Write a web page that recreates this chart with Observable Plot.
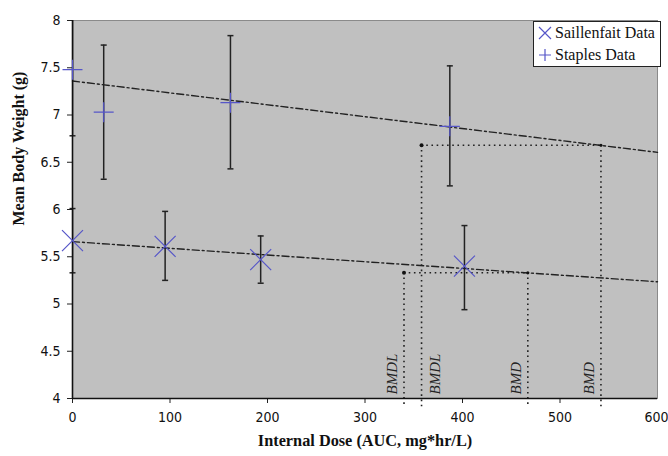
<!DOCTYPE html>
<html>
<head>
<meta charset="utf-8">
<script src="https://cdn.jsdelivr.net/npm/d3@7"></script>
<script src="https://cdn.jsdelivr.net/npm/@observablehq/plot@0.6"></script>
<style>
  html, body { margin: 0; padding: 0; background: #fff; }
  #wrap { position: relative; width: 668px; height: 456px; }
  #legend {
    position: absolute; left: 533px; top: 21px; width: 126px; height: 44px;
    background: #fff; border: 1px solid #222;
    font-family: "Liberation Serif", "Times New Roman", serif; font-size: 16px; color: #111;
  }
  #legend .row { position: absolute; left: 0; height: 22px; display: flex; align-items: center; white-space: nowrap; }
  #legend svg { margin-left: 3px; margin-right: 2px; }
</style>
</head>
<body>
<div id="wrap"></div>
<script>
// ---- data ----
const saillenfaitDose = [0, 95, 193, 402];
const saillenfaitMean = [5.67, 5.61, 5.47, 5.40];
const saillenfaitLow  = [5.33, 5.25, 5.22, 4.94];
const saillenfaitHigh = [6.01, 5.98, 5.72, 5.83];

const staplesDose = [0, 32, 162, 387];
const staplesMean = [7.48, 7.03, 7.13, 6.88];
const staplesLow  = [6.78, 6.32, 6.43, 6.25];
const staplesHigh = [8.18, 7.74, 7.84, 7.52];

const trendDose = [0, 600];
const saillenfaitTrend = [5.66, 5.235];
const staplesTrend = [7.36, 6.605];

const bmdLevel = [5.33, 6.68];
const bmdlDose = [340, 358];
const bmdDose  = [467, 542];
const bmdLabels = ["BMDL", "BMDL", "BMD", "BMD"];
const bmdLabelDose = [340, 358, 467, 542];
const bmdLabelSide = ["left", "right", "left", "left"];

const xTicks = [0, 100, 200, 300, 400, 500, 600];
const yTicks = [4, 4.5, 5, 5.5, 6, 6.5, 7, 7.5, 8];
const xTitle = "Internal Dose (AUC, mg*hr/L)";
const yTitle = "Mean Body Weight (g)";
const seriesNames = ["Saillenfait Data", "Staples Data"];

// ---- derived tables ----
const sail = saillenfaitDose.map((d, i) => ({dose: d, mean: saillenfaitMean[i], lo: saillenfaitLow[i], hi: saillenfaitHigh[i]}));
const stap = staplesDose.map((d, i) => ({dose: d, mean: staplesMean[i], lo: staplesLow[i], hi: staplesHigh[i]}));
const allBars = sail.concat(stap);
const caps = allBars.flatMap(d => [{dose: d.dose, y: d.lo}, {dose: d.dose, y: d.hi}]).filter(d => d.y <= 8);
const trends = trendDose.map((d, i) => ({dose: d, y: saillenfaitTrend[i], s: "a"}))
  .concat(trendDose.map((d, i) => ({dose: d, y: staplesTrend[i], s: "b"})));
const bmd = bmdLevel.map((l, i) => ({level: l, lo: bmdlDose[i], hi: bmdDose[i]}));
const verticals = bmd.flatMap(d => [{dose: d.lo, level: d.level}, {dose: d.hi, level: d.level}]);
const labels = bmdLabels.map((t, i) => ({t, dose: bmdLabelDose[i], side: bmdLabelSide[i]}));

const markerColor = "#5656c8";
const serif = "'Liberation Serif', 'Times New Roman', serif";
const sans = "'DejaVu Sans Condensed', 'DejaVu Sans', sans-serif";
const capSym = {draw(ctx, size) { const r = Math.sqrt(size / Math.PI); ctx.moveTo(-r, 0); ctx.lineTo(r, 0); }};
const timesSym = {draw(ctx, size) { const r = Math.sqrt(size / Math.PI); ctx.moveTo(-r, -r); ctx.lineTo(r, r); ctx.moveTo(-r, r); ctx.lineTo(r, -r); }};
const plusSym = {draw(ctx, size) { const r = Math.sqrt(size / Math.PI); ctx.moveTo(-r, 0); ctx.lineTo(r, 0); ctx.moveTo(0, -r); ctx.lineTo(0, r); }};

const labelMark = side => Plot.text(labels.filter(d => d.side === side), {
  x: "dose", y: 4, text: "t", rotate: -90, textAnchor: "start", dx: side === "left" ? -12 : 14, dy: -4,
  fontFamily: serif, fontStyle: "italic", fontSize: 15, fill: "#222"});

const xAxisOpts = {tickSize: 5, tickPadding: 9, tickFormat: d => String(d), label: null, fontFamily: sans, fontSize: 14, stroke: "#222"};
const lastX = xTicks[xTicks.length - 1];

const chart = Plot.plot({
  width: 668, height: 456,
  marginLeft: 72, marginRight: 11, marginTop: 20, marginBottom: 58,
  style: {background: "#fff", color: "#111"},
  x: {domain: [0, 600]},
  y: {domain: [4, 8]},
  marks: [
    Plot.frame({fill: "#c0c0c0", stroke: "#8a8a8a"}),
    // trend lines
    Plot.line(trends, {x: "dose", y: "y", z: "s", stroke: "#222", strokeWidth: 1.4, strokeDasharray: "7,3,2,3"}),
    // BMD dotted guides
    Plot.ruleY(bmd, {y: "level", x1: "lo", x2: "hi", stroke: "#222", strokeWidth: 1.6, strokeDasharray: "1.6,3.6"}),
    Plot.ruleX(verticals, {x: "dose", y1: "level", y2: 3.91, stroke: "#222", strokeWidth: 1.6, strokeDasharray: "1.6,3.6", clip: false}),
    Plot.dot(bmd, {x: "lo", y: "level", r: 2, fill: "#111"}),
    Plot.dot(bmd, {x: "hi", y: "level", r: 1.6, fill: "#111"}),
    labelMark("left"),
    labelMark("right"),
    // error bars
    Plot.ruleX(allBars, {x: "dose", y1: "lo", y2: "hi", stroke: "#222", strokeWidth: 1.5, clip: true}),
    Plot.dot(caps, {x: "dose", y: "y", symbol: capSym, r: 3, stroke: "#222", strokeWidth: 1.5, clip: false}),
    // axes
    Plot.axisX(xTicks.filter(t => t !== lastX), xAxisOpts),
    Plot.axisX([lastX], {...xAxisOpts, textAnchor: "end", dx: 11}),
    Plot.axisY(yTicks, {tickSize: 5, tickPadding: 7, tickFormat: d => String(d), label: null,
      fontFamily: sans, fontSize: 14, stroke: "#222"}),
    Plot.ruleX([0], {stroke: "#111", strokeWidth: 1.6}),
    Plot.ruleY([4], {stroke: "#111", strokeWidth: 1.6}),
    // markers
    Plot.dot(sail, {x: "dose", y: "mean", symbol: timesSym, r: 10.5, stroke: markerColor, strokeWidth: 1.2, fill: "none"}),
    Plot.dot(stap, {x: "dose", y: "mean", symbol: plusSym, r: 10, stroke: markerColor, strokeWidth: 1.2, fill: "none"}),
    // axis titles
    Plot.text([xTitle], {frameAnchor: "bottom", dy: 47, text: d => d, fontFamily: serif,
      fontWeight: "bold", fontSize: 16.3, fill: "#111"}),
    Plot.text([yTitle], {frameAnchor: "left", dx: -54, dy: 16, rotate: -90, text: d => d, fontFamily: serif,
      fontWeight: "bold", fontSize: 16, fill: "#111", letterSpacing: "2px"})
  ]
});
const wrap = document.getElementById("wrap");
wrap.appendChild(chart);

// legend (inside plot area, top right)
const legend = document.createElement("div");
legend.id = "legend";
const syms = [
  '<svg width="16" height="16"><path d="M2,2L14,14M2,14L14,2" stroke="' + markerColor + '" stroke-width="1.2" fill="none"/></svg>',
  '<svg width="16" height="16"><path d="M2,8L14,8M8,2L8,14" stroke="' + markerColor + '" stroke-width="1.2" fill="none"/></svg>'
];
seriesNames.forEach((name, i) => {
  const row = document.createElement("div");
  row.className = "row";
  row.style.top = (0 + i * 22) + "px";
  row.innerHTML = syms[i] + "<span>" + name + "</span>";
  legend.appendChild(row);
});
wrap.appendChild(legend);
</script>
</body>
</html>
